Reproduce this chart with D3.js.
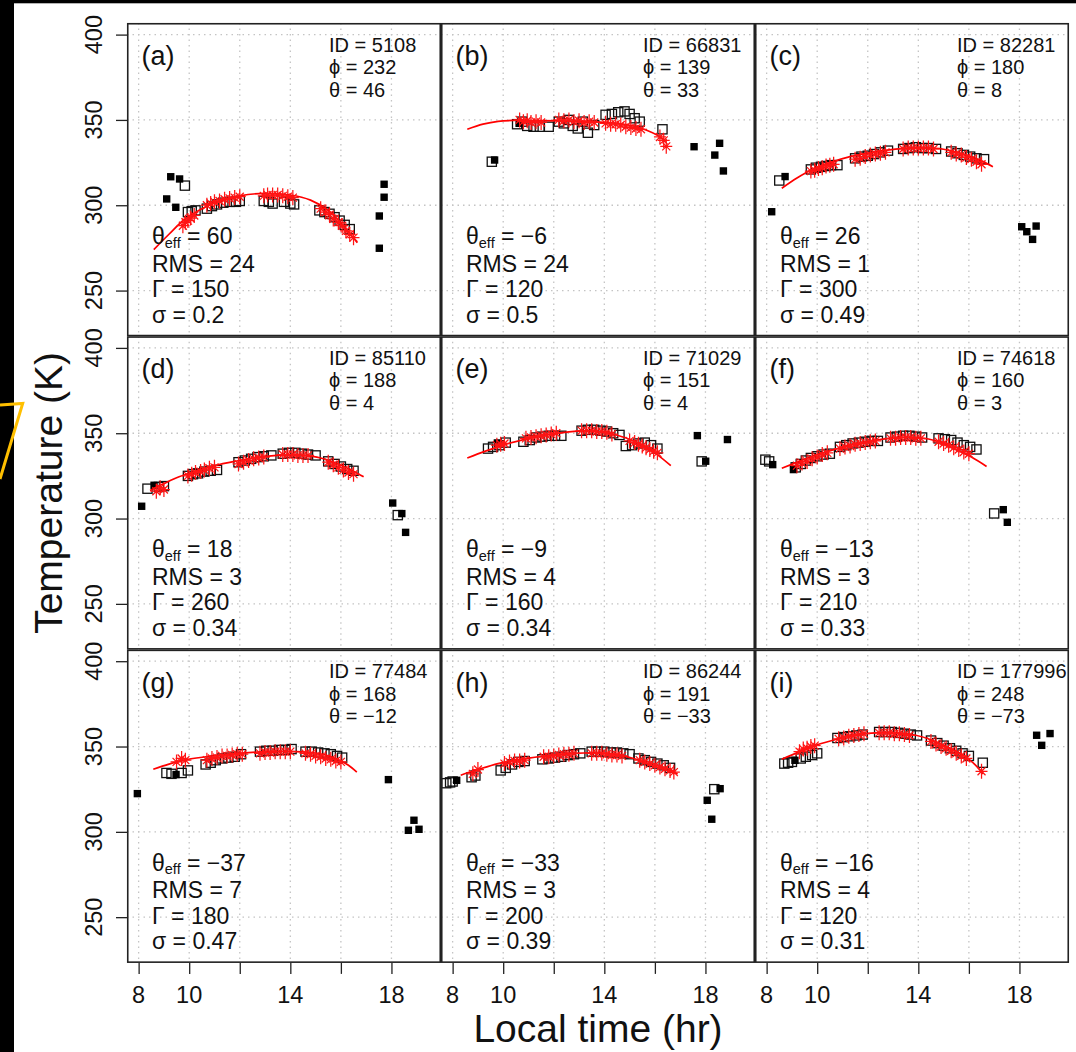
<!DOCTYPE html>
<html>
<head>
<meta charset="utf-8">
<script src="https://cdn.jsdelivr.net/npm/d3@7"></script>
<style>
  html, body { margin: 0; padding: 0; background: #fff; }
  svg { display: block; font-family: "Liberation Sans", Arial, Helvetica, sans-serif; }
</style>
</head>
<body>
<svg id="chart" width="1076" height="1052"></svg>
<script>
// ---- panel annotations ----
const panelTags = ["(a)", "(b)", "(c)", "(d)", "(e)", "(f)", "(g)", "(h)", "(i)"];
const siteIds   = [5108, 66831, 82281, 85110, 71029, 74618, 77484, 86244, 177996];
const phiVals   = [232, 139, 180, 188, 151, 160, 168, 191, 248];
const thetaVals = [46, 33, 8, 4, 4, 3, -12, -33, -73];
const thetaEff  = [60, -6, 26, 18, -9, -13, -37, -33, -16];
const rmsVals   = [24, 24, 1, 3, 4, 3, 7, 3, 4];
const gammaVals = [150, 120, 300, 260, 160, 210, 180, 200, 120];
const sigmaVals = ["0.2", "0.5", "0.49", "0.34", "0.34", "0.33", "0.47", "0.39", "0.31"];

// ---- axes ----
const xTicks = [8, 10, 12, 14, 16, 18];
const xTickLabels = ["8", "10", "", "14", "", "18"];
const yTicks = [250, 300, 350, 400];
const xLimits = [8, 19.5];
const yLimits = [230, 400];

// ---- observations used in the fit: [local time (hr), T (K)] ----
const usedObs = [
  [[9.83,311.5],[9.95,296],[10.1,296.5],[10.25,297],[10.7,298],[10.9,299.5],[11.1,300.5],[11.35,301.5],[11.6,302],[11.85,302],[12.0,302.5],[12.95,302.5],[13.15,302],[13.3,301],[13.75,302],[14.0,301],[14.15,300.5],[15.15,297],[15.35,296],[15.55,295],[15.75,293],[15.95,291],[16.15,288.5],[16.35,286]],
  [[9.55,325.5],[10.55,347.5],[10.75,349],[10.95,346.5],[11.2,346],[11.45,346],[11.8,346],[12.2,349],[12.4,348],[12.6,350],[12.75,346.5],[12.95,345],[13.15,349],[13.35,342.5],[13.6,347],[14.05,353],[14.3,353.5],[14.55,354.5],[14.8,355],[15.0,353.5],[15.2,351],[15.4,349],[16.3,344.5]],
  [[8.5,314.5],[9.75,321],[9.95,322],[10.15,322.5],[10.35,323],[10.55,323.5],[10.8,323.5],[11.5,327.5],[11.75,328.5],[12.0,329],[12.25,330],[12.5,331],[12.8,332],[13.4,333],[13.65,333.5],[13.9,334],[14.15,333.5],[14.4,333.5],[14.7,333],[15.3,331.5],[15.55,330.5],[15.8,329.5],[16.05,328.5],[16.3,327.5],[16.6,327]],
  [[8.35,317.5],[8.8,318.5],[9.0,319],[9.95,325],[10.15,326],[10.35,326.5],[10.6,327.5],[10.85,328],[11.1,328.5],[11.95,333],[12.2,334],[12.45,335],[12.7,336],[12.95,336.5],[13.25,337],[13.7,338],[13.95,338.5],[14.2,338.5],[14.45,338],[14.7,337.5],[15.0,337],[15.5,333.5],[15.75,332],[16.0,330.5],[16.25,329],[16.5,328],[18.25,302]],
  [[9.4,341],[9.6,342],[9.85,343],[10.1,344.5],[10.8,345],[11.05,346],[11.3,347.5],[11.55,348],[11.8,348.5],[12.05,348.5],[12.3,348.5],[13.1,351.5],[13.35,352],[13.6,352],[13.85,351.5],[14.1,351],[14.35,350],[14.6,349],[14.85,342.5],[15.1,343],[15.35,344],[15.6,344.5],[15.85,343],[16.1,341],[17.85,333.5]],
  [[7.95,334.5],[8.1,333.5],[9.15,330],[9.35,332],[9.55,334],[9.75,335.5],[10.0,336.5],[10.25,337.5],[10.5,338],[10.9,342],[11.15,343],[11.4,344],[11.65,344.5],[11.9,345],[12.15,345.5],[12.4,345.5],[12.9,347.5],[13.15,348],[13.4,348.5],[13.65,348.5],[13.9,348],[14.15,347.5],[14.8,347],[15.05,346.5],[15.3,346],[15.55,344.5],[15.8,343],[16.05,342],[16.3,340.5],[17.0,303]],
  [[9.1,334.5],[9.3,334],[9.7,334.5],[9.95,336],[10.65,339.5],[10.85,340.5],[11.05,342],[11.3,343],[11.55,343.5],[11.8,344],[12.05,345.5],[12.8,347],[13.05,347.5],[13.3,347.5],[13.55,348],[13.8,348],[14.05,348.5],[14.6,347],[14.85,347],[15.1,346.5],[15.35,346],[15.6,345.5],[15.85,344.5],[16.05,343.5]],
  [[7.75,328.5],[7.9,329],[8.0,329.5],[8.75,332],[8.9,333],[9.9,336],[10.1,337.5],[10.35,339.5],[10.6,341],[10.85,341.5],[11.55,342.5],[11.8,343],[12.05,343.5],[12.3,344],[12.55,345],[12.8,345.5],[13.05,346],[13.5,347],[13.75,347],[14.0,347],[14.25,346.5],[14.5,346.5],[14.75,346],[15.0,345.5],[15.35,343],[15.6,342],[15.85,341],[16.1,340],[16.35,339],[16.6,337.5],[18.35,325]],
  [[8.7,340],[8.85,340.5],[9.0,341],[9.35,343],[9.55,344],[9.8,345],[10.0,346],[10.8,355],[11.05,355.5],[11.3,356],[11.55,356.5],[11.8,357],[12.45,358.5],[12.7,358.5],[12.95,358.5],[13.2,358],[13.45,357.5],[13.7,357],[13.95,356.5],[14.5,353.5],[14.75,352],[15.0,350.5],[15.25,349],[15.5,347.5],[15.75,346],[16.0,344.5],[16.55,340.5]]
];

// ---- observations excluded from the fit ----
const rejectedObs = [
  [[9.27,316.7],[9.62,315.4],[9.11,303.7],[9.47,298.8],[17.71,312.3],[17.71,304.7],[17.52,293.7],[17.52,274.8]],
  [[9.66,326.5],[10.63,348],[17.55,334.3],[18.56,336.3],[18.37,329.4],[18.71,320.1]],
  [[8.2,296.2],[8.73,316.8],[18.66,287.8],[18.09,287.4],[18.29,284.5],[18.52,280]],
  [[8.12,307.2],[8.61,319.5],[18.05,309.1],[18.41,302.9],[18.56,291.9]],
  [[9.77,344.3],[17.68,348.6],[18.87,346.3],[18.01,333.6]],
  [[8.24,331.6],[9.06,328.7],[17.36,305.2],[17.52,297.8]],
  [[7.95,322.4],[9.48,333.6],[17.88,330.6],[18.89,306.8],[18.67,300.9],[19.09,301.5]],
  [[8.16,330.2],[18.07,318.5],[18.25,307.4],[18.58,325.3]],
  [[9.12,341.9],[19.21,357.6],[18.88,350.7],[18.68,356.6]]
];

// ---- model temperature at each observation ----
const modelPts = [
  [[9.75,288],[9.85,290],[9.95,291],[10.05,292.5],[10.2,294],[10.7,300],[10.85,301],[11.0,302],[11.2,302.5],[11.4,303.5],[11.6,304],[11.8,304.5],[12.0,305],[12.95,305.5],[13.1,306],[13.3,306],[13.5,306],[13.7,305.5],[13.9,305],[14.1,304.5],[15.2,298],[15.4,296],[15.55,294.5],[15.7,292],[15.9,290],[16.05,288],[16.2,285],[16.35,283],[16.5,281]],
  [[10.65,350],[10.8,349],[10.95,349.5],[11.1,348.5],[11.3,349],[11.5,348.5],[12.2,350],[12.4,349.5],[12.6,350],[12.8,349],[13.0,349.5],[13.2,348.5],[13.4,349],[13.6,348.5],[14.05,348],[14.25,347.5],[14.45,347.5],[14.65,347],[14.85,346],[15.05,345.5],[15.25,345],[15.45,344.5],[16.2,340],[16.35,338],[16.45,334.5]],
  [[9.75,320],[9.9,320.5],[10.05,321.5],[10.2,322],[10.35,323],[10.5,323.5],[10.65,324],[11.5,327],[11.7,327.5],[11.9,328.5],[12.1,329.5],[12.3,330],[12.5,330.5],[12.7,331],[13.4,333],[13.6,333.5],[13.8,333.5],[14.0,333.5],[14.2,333.5],[14.4,333.5],[14.6,333],[15.3,331],[15.5,330],[15.7,329.5],[15.9,328],[16.1,327],[16.3,325.5],[16.5,324]],
  [[8.7,316],[8.85,318],[9.0,317],[9.95,325],[10.1,326],[10.25,327],[10.45,327.5],[10.6,328.5],[10.8,329.5],[11.0,330],[11.95,332],[12.15,333],[12.35,334],[12.55,335],[12.75,335.5],[12.95,336],[13.7,337.5],[13.9,337.5],[14.1,337.5],[14.3,337],[14.5,337],[14.7,337],[15.5,333],[15.7,331.5],[15.9,330],[16.1,328.5],[16.3,327],[16.5,326]],
  [[9.75,343],[9.9,343.5],[10.05,344],[10.9,347],[11.1,347.5],[11.3,348],[11.5,348.5],[11.7,349],[11.9,349.5],[12.1,350],[13.1,351.5],[13.3,351.5],[13.5,351.5],[13.7,351],[13.9,351],[14.1,350.5],[14.3,349.5],[15.0,345.5],[15.2,344.5],[15.35,343.5],[15.5,342.5],[15.65,341.5],[15.8,340.5],[15.95,339.5],[16.1,338.5]],
  [[9.2,331],[9.4,332.5],[9.6,333.5],[9.8,335],[10.0,336],[10.2,337.5],[10.4,338.5],[10.9,341],[11.1,342],[11.3,342.5],[11.5,343.5],[11.7,344],[11.9,344.5],[12.1,345],[12.3,345.5],[12.9,347],[13.1,347],[13.3,347.5],[13.5,347.5],[13.7,347.5],[13.9,347],[14.1,347],[14.8,345],[15.0,344],[15.2,343],[15.4,341.5],[15.6,340.5],[15.8,339],[16.0,338]],
  [[9.5,341],[9.7,343],[9.85,342],[10.7,342],[10.9,343],[11.1,343.5],[11.3,344.5],[11.5,344.5],[11.7,345],[11.9,345.5],[12.1,345.5],[12.8,346],[13.0,346.5],[13.2,346.5],[13.4,347],[13.6,347],[13.8,347],[14.0,347],[14.6,346],[14.8,345.5],[15.0,344.5],[15.2,344],[15.4,343],[15.6,342.5],[15.8,341.5],[16.0,341]],
  [[8.8,334],[9.0,336.5],[10.05,340],[10.25,341],[10.45,341.5],[10.65,341.5],[10.85,342],[11.6,344],[11.8,344],[12.0,344.5],[12.2,345],[12.4,345.5],[12.6,345.5],[12.8,346],[13.5,346],[13.7,346],[13.9,346],[14.1,345.5],[14.3,345],[14.5,345],[14.7,344.5],[15.4,342],[15.6,341],[15.8,340],[16.0,339],[16.2,338],[16.4,337],[16.6,336],[16.75,335]],
  [[9.3,347],[9.45,348.5],[9.6,349],[9.75,350],[9.9,350.5],[10.85,354.5],[11.05,355],[11.25,356],[11.45,356.5],[11.65,357],[11.85,357.5],[12.45,358],[12.65,358],[12.85,358],[13.05,357.5],[13.25,357.5],[13.45,357],[13.65,356.5],[14.5,353],[14.7,351.5],[14.9,350],[15.1,349],[15.3,347.5],[15.5,346],[15.7,344.5],[15.9,343],[16.5,335.5]]
];

// ---- fitted diurnal curve ----
const fitCurve = [
  [[8.6,274],[9.2,283],[9.8,291.5],[10.5,298],[11.2,302.5],[12.0,305.5],[13.0,307],[14.0,306],[14.8,303],[15.5,297],[16.1,288],[16.65,278]],
  [[8.58,344.5],[9.2,347.5],[9.8,349.2],[10.4,349.7],[11.5,349.6],[12.5,349.3],[13.5,349],[14.5,348],[15.2,346.3],[15.7,343.8],[16.1,341],[16.45,337.5]],
  [[8.6,310],[9.2,316],[9.8,321],[10.5,325],[11.3,328.5],[12.3,331.3],[13.3,333.2],[14.2,333.6],[15.0,332.8],[15.8,330],[16.5,326],[16.95,322.5]],
  [[8.45,316.5],[9.0,320.5],[9.6,324.5],[10.3,328],[11.0,331],[11.8,333.5],[12.7,335.8],[13.7,337.2],[14.5,337],[15.2,335.5],[15.9,332],[16.4,328.5],[16.9,324.5]],
  [[8.58,335.5],[9.3,339.5],[10.1,343.5],[10.9,346.5],[11.7,349],[12.6,350.8],[13.5,351.3],[14.2,350],[14.8,347.5],[15.4,344],[16.0,338.5],[16.63,331]],
  [[8.6,329.5],[9.3,333.5],[10.0,337.5],[10.8,341],[11.7,344.3],[12.6,346.5],[13.5,347.6],[14.4,346.6],[15.0,344],[15.5,340.5],[16.1,336],[16.7,330.5]],
  [[8.58,336.7],[9.2,339.7],[9.9,342.3],[10.8,344.3],[12.0,346],[13.0,347],[14.0,347.2],[14.8,346.5],[15.4,345],[15.9,342.3],[16.3,339],[16.63,335]],
  [[8.32,333.2],[9.0,336.5],[9.8,340],[10.8,342.8],[11.8,344.7],[12.8,346],[13.7,346.3],[14.5,345.3],[15.2,342.8],[15.8,339.5],[16.4,336.5],[16.9,334]],
  [[8.6,342.5],[9.3,347],[10.0,351],[10.7,354],[11.3,356.2],[12.0,357.7],[12.6,358.2],[13.3,357.8],[13.9,356.6],[14.5,354],[15.0,350.7],[15.4,348],[15.8,344.8],[16.2,340],[16.57,334]]
];

// ---- layout ----
const W = 1076, H = 1052;
const gridLeft = 127, gridTop = 23, pw = 314, ph = 313.3;
const FONT = '"Liberation Sans", Arial, Helvetica, sans-serif';

const svg = d3.select("#chart");
svg.append("rect").attr("width", W).attr("height", H).attr("fill", "#fff");
// dark margin strips along the top and left edges
svg.append("rect").attr("x", 0).attr("y", 0).attr("width", W).attr("height", 3.3).attr("fill", "#000");
svg.append("rect").attr("x", 0).attr("y", 0).attr("width", 14).attr("height", H).attr("fill", "#000");

// R-style 4% axis padding
const padX = (xLimits[1] - xLimits[0]) * 0.04;
const padY = (yLimits[1] - yLimits[0]) * 0.04;
const x = d3.scaleLinear().domain([xLimits[0] - padX, xLimits[1] + padX]).range([0, pw]);
const y = d3.scaleLinear().domain([yLimits[0] - padY, yLimits[1] + padY]).range([ph, 0]);

const line = d3.line().x(d => x(d[0])).y(d => y(d[1])).curve(d3.curveCatmullRom.alpha(0.5));
const fmt = v => (v < 0 ? "\u2212" + Math.abs(v) : String(v));

function asteriskPath(sx, sy, d) {
  return `M${-sx},0H${sx}M0,${-sy}V${sy}M${-d},${-d}L${d},${d}M${-d},${d}L${d},${-d}`;
}

const defs = svg.append("defs");

panelTags.forEach((tag, i) => {
  const col = i % 3, row = Math.floor(i / 3);
  const g = svg.append("g")
    .attr("transform", `translate(${gridLeft + col * pw},${gridTop + row * ph})`);

  defs.append("clipPath").attr("id", "clip" + i)
    .append("rect").attr("x", 0).attr("y", 0).attr("width", pw).attr("height", ph);

  const plot = g.append("g").attr("clip-path", `url(#clip${i})`);

  // dotted grid
  plot.selectAll(".gx").data(xTicks).join("line")
    .attr("x1", d => x(d)).attr("x2", d => x(d)).attr("y1", 0).attr("y2", ph)
    .attr("stroke", "#c4c4c4").attr("stroke-width", 1.3).attr("stroke-dasharray", "1.5,4");
  plot.selectAll(".gy").data(yTicks).join("line")
    .attr("x1", 0).attr("x2", pw).attr("y1", d => y(d)).attr("y2", d => y(d))
    .attr("stroke", "#c4c4c4").attr("stroke-width", 1.3).attr("stroke-dasharray", "1.5,4");

  // observations (open squares)
  const so = 9.2;
  plot.selectAll(".obs").data(usedObs[i]).join("rect")
    .attr("x", d => x(d[0]) - so / 2).attr("y", d => y(d[1]) - so / 2)
    .attr("width", so).attr("height", so)
    .attr("fill", "none").attr("stroke", "#111").attr("stroke-width", 1.3);

  // excluded observations (filled squares)
  const sf = 7.4;
  plot.selectAll(".rej").data(rejectedObs[i]).join("rect")
    .attr("x", d => x(d[0]) - sf / 2).attr("y", d => y(d[1]) - sf / 2)
    .attr("width", sf).attr("height", sf).attr("fill", "#000");

  // fitted curve
  plot.append("path").datum(fitCurve[i]).attr("d", line)
    .attr("fill", "none").attr("stroke", "#ff0000").attr("stroke-width", 1.7);

  // model values (asterisks)
  plot.selectAll(".mod").data(modelPts[i]).join("path")
    .attr("transform", d => `translate(${x(d[0])},${y(d[1])})`)
    .attr("d", asteriskPath(6, 7.5, 4))
    .attr("fill", "none").attr("stroke", "#ff1414").attr("stroke-width", 1.25);

  // panel frame
  g.append("rect").attr("x", 0.75).attr("y", 0.75).attr("width", pw - 1.5).attr("height", ph - 1.5)
    .attr("fill", "none").attr("stroke", "#222").attr("stroke-width", 1.6);

  // panel tag
  g.append("text").attr("x", 14.5).attr("y", 42).attr("font-size", 27).attr("fill", "#111")
    .attr("font-family", FONT).text(tag);

  // identifiers (top right)
  const idLines = ["ID = " + siteIds[i], "\u03D5 = " + phiVals[i], "\u03B8 = " + fmt(thetaVals[i])];
  idLines.forEach((t, k) => {
    g.append("text").attr("x", 202).attr("y", 28.5 + k * 22.5).attr("font-size", 20)
      .attr("fill", "#111").attr("font-family", FONT).text(t);
  });

  // fit statistics (bottom left)
  const sx = 25, sy0 = 223, sdy = 25.6;
  const t0 = g.append("text").attr("x", sx).attr("y", sy0 - 2).attr("font-size", 23)
    .attr("fill", "#111").attr("font-family", FONT);
  t0.append("tspan").text("\u03B8");
  t0.append("tspan").attr("font-size", 14.5).attr("dy", 3.5).text("eff");
  t0.append("tspan").attr("dy", -3.5).text(" = " + fmt(thetaEff[i]));
  const rest = ["RMS = " + rmsVals[i], "\u0393 = " + gammaVals[i], "\u03C3 = " + sigmaVals[i]];
  rest.forEach((t, k) => {
    g.append("text").attr("x", sx).attr("y", sy0 + (k + 1) * sdy).attr("font-size", 23)
      .attr("fill", "#111").attr("font-family", FONT).text(t);
  });

  // left axis
  if (col === 0) {
    const ax = g.append("g").call(d3.axisLeft(y).tickValues(yTicks).tickSize(11).tickFormat(""));
    ax.select(".domain").remove();
    ax.selectAll(".tick line").attr("stroke", "#222").attr("stroke-width", 1.3);
    g.selectAll(".ylab").data(yTicks).join("text")
      .attr("transform", d => `translate(-25,${y(d)}) rotate(-90)`)
      .attr("text-anchor", "middle").attr("font-size", 23.5).attr("fill", "#111")
      .attr("font-family", FONT).text(d => d);
  }

  // bottom axis
  if (row === 2) {
    const ax = g.append("g").attr("transform", `translate(0,${ph})`)
      .call(d3.axisBottom(x).tickValues(xTicks).tickSize(11).tickFormat(""));
    ax.select(".domain").remove();
    ax.selectAll(".tick line").attr("stroke", "#222").attr("stroke-width", 1.3);
    g.selectAll(".xlab").data(xTicks.map((v, k) => [v, xTickLabels[k]])).join("text")
      .attr("x", d => x(d[0])).attr("y", ph + 40).attr("text-anchor", "middle")
      .attr("font-size", 23.5).attr("fill", "#111").attr("font-family", FONT).text(d => d[1]);
  }
});

// axis titles
svg.append("text").attr("x", gridLeft + 1.5 * pw).attr("y", 1042).attr("text-anchor", "middle")
  .attr("font-size", 39).attr("fill", "#111").attr("font-family", FONT).text("Local time (hr)");
svg.append("text").attr("transform", `translate(62,${gridTop + 1.5 * ph}) rotate(-90)`)
  .attr("text-anchor", "middle").attr("font-size", 39).attr("fill", "#111")
  .attr("font-family", FONT).text("Temperature (K)");

// highlight stroke at the left edge
svg.append("polyline").attr("points", [[0, 405], [22.7, 403.5], [0, 479]].map(p => p.join(",")).join(" "))
  .attr("fill", "none").attr("stroke", "#ffbf00").attr("stroke-width", 3).attr("stroke-linejoin", "miter");
</script>
</body>
</html>
